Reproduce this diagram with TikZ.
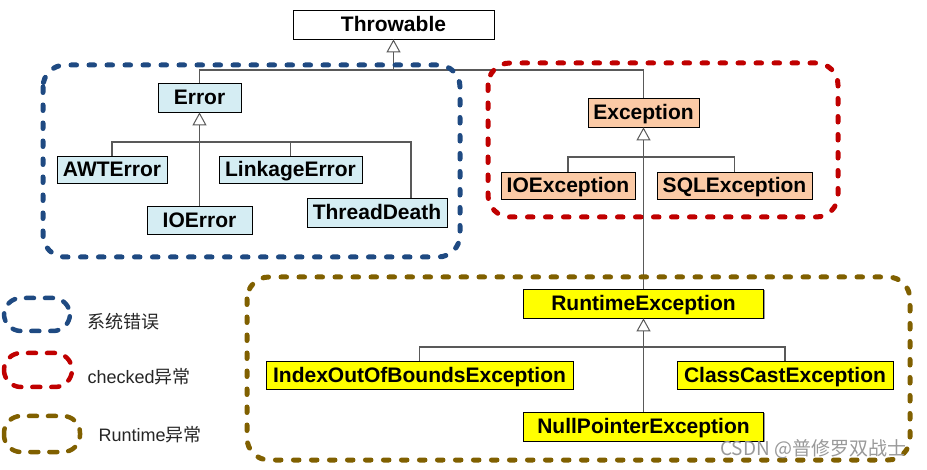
\documentclass[tikz,border=0pt]{standalone}
\usepackage{fontspec}
\setmainfont{Liberation Sans}
\newfontfamily\cjk{Noto Sans CJK SC}
\usetikzlibrary{arrows.meta,shadows}
\definecolor{errfill}{HTML}{D5EDF3}
\definecolor{excfill}{HTML}{FBCAA6}
\definecolor{rtfill}{HTML}{FFFF00}
\definecolor{blueC}{HTML}{1F4A82}
\definecolor{redC}{HTML}{C00000}
\definecolor{oliveC}{HTML}{806000}
\begin{document}
\begin{tikzpicture}[x=1pt,y=-1pt,
  cls/.style={draw=black, line width=0.8pt, inner sep=0pt,
    text height=15pt, text depth=0pt,
    font=\fontsize{21}{24}\selectfont\bfseries,
    drop shadow={shadow xshift=1.4pt, shadow yshift=-1.4pt, fill=black!40, opacity=1}},
  conn/.style={draw=black!65, line width=1.1pt},
  inh/.style={-{Triangle[open, width=14pt, length=13pt, line width=1pt]}},
  grp/.style={line width=5pt, line cap=round, dash pattern=on 5.5pt off 12.5pt, rounded corners=22pt},
  leg/.style={line width=4.5pt, line cap=round, dash pattern=on 8pt off 11pt, rounded corners=17pt},
  legtxt/.style={anchor=west, text=black!85, font=\fontsize{18}{20}\selectfont}
]
\fill[white] (0,0) rectangle (927,470);
\useasboundingbox (0,0) rectangle (927,470);

% classes
\node[cls, fill=white, minimum width=201pt, minimum height=29pt] (thr) at (393.5,24.5) {Throwable};
\node[cls, fill=errfill, minimum width=83pt, minimum height=29pt] (err) at (199.5,97.5) {Error};
\node[cls, fill=errfill, minimum width=110pt, minimum height=27pt] (awt) at (112,169.5) {AWTError};
\node[cls, fill=errfill, minimum width=143pt, minimum height=27pt] (link) at (290.5,169.5) {LinkageError};
\node[cls, fill=errfill, minimum width=105pt, minimum height=28pt] (ioerr) at (199.5,220) {IOError};
\node[cls, fill=errfill, minimum width=140pt, minimum height=29pt] (td) at (377,212.5) {ThreadDeath};
\node[cls, fill=excfill, minimum width=111pt, minimum height=29pt] (exc) at (643.5,112.5) {Exception};
\node[cls, fill=excfill, minimum width=134pt, minimum height=27pt] (ioexc) at (568,185.5) {IOException};
\node[cls, fill=excfill, minimum width=155pt, minimum height=27pt] (sql) at (734.5,185.5) {SQLException};
\node[cls, fill=rtfill, minimum width=240pt, minimum height=29pt] (rt) at (643.5,303.5) {RuntimeException};
\node[cls, fill=rtfill, minimum width=307pt, minimum height=28pt] (idx) at (419.5,375) {IndexOutOfBoundsException};
\node[cls, fill=rtfill, minimum width=216pt, minimum height=28pt] (cce) at (785,375) {ClassCastException};
\node[cls, fill=rtfill, minimum width=240pt, minimum height=29pt] (npe) at (643.5,426.5) {NullPointerException};

% junctions
\coordinate (tj) at (393.5,70);
\coordinate (ej) at (199.5,142);
\coordinate (ejR) at (411,142);
\coordinate (xj) at (643.5,157);
\coordinate (rj) at (643.5,347);

% Throwable hierarchy
\draw[conn] (err.north) |- (tj);
\draw[conn] (exc.north) |- (tj);
\draw[conn, inh] (tj) -- (thr.south);
% Error hierarchy
\draw[conn] (awt.north) |- (ej);
\draw[conn] (link.north) |- (ej);
\draw[conn] (ioerr.north) -- (ej);
\draw[conn] (td.north -| ejR) |- (ej);
\draw[conn, inh] (ej) -- (err.south);
% Exception hierarchy
\draw[conn] (ioexc.north) |- (xj);
\draw[conn] (sql.north) |- (xj);
\draw[conn] (rt.north) -- (xj);
\draw[conn, inh] (xj) -- (exc.south);
% Runtime hierarchy
\draw[conn] (idx.north) |- (rj);
\draw[conn] (cce.north) |- (rj);
\draw[conn] (npe.north) -- (rj);
\draw[conn, inh] (rj) -- (rt.south);

% groups
\draw[grp, draw=blueC] (43,65) rectangle (460,257);
\draw[grp, draw=redC] (488,63) rectangle (838,217);
\draw[grp, draw=oliveC] (247,277) rectangle (910,460);

% legend
\draw[leg, draw=blueC] (4,298) rectangle (70,331);
\draw[leg, draw=redC] (4,353) rectangle (72,387);
\draw[leg, draw=oliveC] (4,416) rectangle (80,452);
\node[legtxt] (l1) at (84,322) {\cjk 系统错误};
\node[legtxt] (l2) at (84,377) {checked{\cjk 异常}};
\node[legtxt] (l3) at (95,435) {Runtime{\cjk 异常}};

% watermark
\node[anchor=west, text=black!40, font=\cjk\fontsize{19}{21}\selectfont, inner sep=0pt] (wm) at (720,449) {CSDN @普修罗双战士};
\end{tikzpicture}
\end{document}
